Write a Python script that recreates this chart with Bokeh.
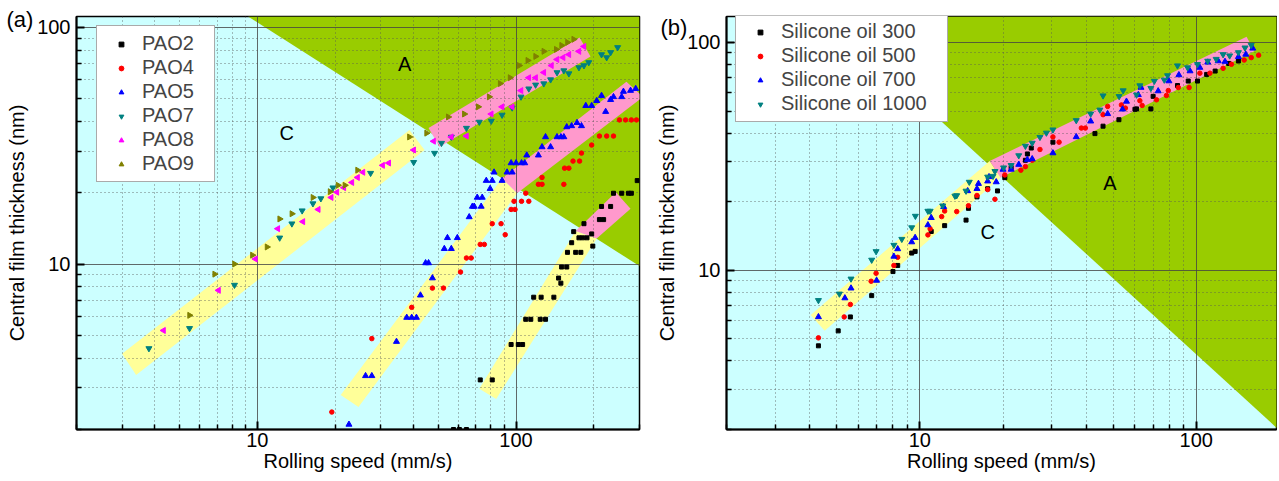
from bokeh.plotting import figure
from bokeh.models import Range1d, Legend, LegendItem, Label, BasicTickFormatter, FixedTicker
from bokeh.layouts import row
from bokeh.embed import file_html
from bokeh.resources import INLINE

FONT = "Liberation Sans"
FS = "20px"

# ---------------- panel (a) data ----------------
pao2_x = [57.3, 60.4, 64.3, 72.7, 80.9, 95.7, 102, 106, 109, 114, 124, 130, 117, 125, 140, 146, 149, 150, 157,
          158, 170, 178, 164, 167, 175, 181, 188, 196, 198, 183, 210, 218, 214, 232, 238, 256, 272, 279, 294]
pao2_y = [2.0, 2.0, 2.0, 3.24, 3.24, 4.57, 4.57, 4.57, 5.84, 5.84, 5.84, 5.84, 7.24, 7.24, 7.24, 8.72, 8.30, 9.71, 9.71,
          11.2, 11.2, 11.2, 12.3, 13.7, 12.9, 12.9, 12.9, 13.4, 11.9, 14.8, 15.4, 15.4, 17.5, 17.5, 19.9, 19.9, 19.9, 19.9, 22.5]

pao4_x = [19.4, 27.7, 39.5, 47.5, 52.4, 61.0, 64.3, 67.1, 72.7, 75.4, 90.8, 80.9, 87.5, 95.7, 99.1, 98.2, 105, 112,
          109, 122, 126, 126, 153, 154, 160, 166, 176, 179, 196, 210, 224, 238, 251, 265, 279, 292]
pao4_y = [2.37, 4.84, 6.56, 7.91, 7.91, 9.25, 10.6, 10.6, 12.1, 12.1, 13.3, 14.8, 14.8, 17.0, 17.0, 18.4, 18.4, 18.4,
          19.9, 21.7, 21.7, 23.2, 21.7, 25.4, 25.4, 27.2, 27.2, 29.4, 31.8, 34.7, 34.7, 34.7, 40.6, 40.6, 40.6, 40.6]

pao5_x = [22.6, 26.2, 27.7, 34.5, 37.8, 39.5, 41.2, 42.7, 47.5, 44.7, 45.9, 52.8, 56.2, 54.3, 59.3, 65.9, 67.8, 68.9,
          73.3, 70.8, 74.0, 79.4, 76.7, 80.9, 82.2, 88.3, 92.3, 95.7, 96.6, 100, 105, 108, 110, 122, 126, 130, 136, 144,
          149, 153, 157, 164, 172, 179, 186, 196, 205, 214, 222, 232, 238, 256, 260, 277, 290]
pao5_y = [2.10, 3.37, 3.37, 4.70, 5.94, 5.94, 5.94, 7.38, 8.72, 10.1, 10.1, 11.6, 11.6, 12.9, 12.9, 15.8, 17.5, 17.5,
          17.5, 19.1, 19.1, 20.8, 22.5, 22.5, 24.4, 22.5, 24.4, 26.7, 24.4, 26.7, 26.7, 26.7, 28.8, 28.8, 31.2, 34.4, 31.2,
          34.4, 34.4, 34.4, 37.9, 38.3, 39.5, 38.3, 46.6, 46.6, 48.9, 51.4, 44.0, 49.4, 50.8, 50.8, 53.5, 54.0, 55.0]

pao7_x = [3.81, 5.47, 8.16, 12.2, 13.6, 14.9, 16.4, 17.6, 19.6, 27.4, 40.2, 48.4, 51.5, 56.2, 64.3, 72.1, 80.2, 88.3,
          96.6, 104.5, 112, 119, 128, 136, 144, 153, 160, 175, 183, 191, 214, 224, 232, 247]
pao7_y = [4.40, 5.35, 8.15, 12.9, 14.8, 16.8, 18.0, 18.9, 21.0, 24.2, 26.9, 29.4, 32.4, 34.4, 37.5, 39.8, 40.2, 42.6,
          45.7, 50.8, 55.0, 57.1, 57.8, 60.1, 64.4, 65.6, 63.7, 67.6, 68.9, 71.0, 76.7, 74.5, 78.3, 82.2]

pao8_x = [4.34, 7.08, 9.83, 12.0, 15.0, 17.2, 19.3, 20.3, 21.6, 23.2, 24.4, 25.6, 30.5, 32.2, 40.2, 48.0, 56.2, 64.3,
          80.2, 88.3, 96.6, 104.5, 112, 119, 128, 137, 144, 152, 160, 175, 183]
pao8_y = [5.24, 7.74, 10.5, 14.1, 15.1, 17.0, 19.1, 20.1, 21.0, 22.1, 23.2, 24.4, 26.1, 26.7, 30.3, 33.0, 34.4, 34.7,
          43.0, 46.1, 46.1, 54.0, 61.2, 61.2, 64.4, 68.9, 73.1, 74.5, 76.7, 79.1, 83.0]

pao9_x = [5.47, 6.84, 8.16, 9.57, 10.9, 12.2, 13.6, 16.4, 19.1, 20.5, 21.8, 24.4, 38.7, 45.1, 54.7, 63.1, 71.4, 78.7,
          86.8, 94.8, 102.8, 111, 119, 128, 143, 150, 158, 167]
pao9_y = [6.07, 9.06, 10.0, 10.9, 11.8, 15.5, 16.3, 19.1, 20.2, 21.5, 21.5, 24.9, 34.4, 35.7, 41.8, 43.0, 46.1, 50.8,
          57.8, 61.2, 68.9, 72.4, 75.3, 79.1, 80.6, 83.8, 86.3, 88.9]

# regime regions / bands of panel (a)
a_green_x = [9.2, 300, 300]
a_green_y = [111, 9.8, 111]
a_yellow1_x = [3.0, 3.40, 44.3, 38.7]
a_yellow1_y = [4.18, 3.40, 30.3, 36.8]
a_pink1_x = [45.9, 50.6, 194, 176]
a_pink1_y = [37.5, 31.2, 75.3, 90.6]
a_yellow2_x = [21.0, 24.6, 101, 88.3]
a_yellow2_y = [2.80, 2.49, 19.9, 23.0]
a_pink2_x = [88.3, 101, 310, 267]
a_pink2_y = [23.0, 19.9, 50.8, 58.9]
a_yellow3_x = [72.1, 83.8, 205, 170]
a_yellow3_y = [2.97, 2.69, 12.8, 13.8]
a_pink3_x = [170, 205, 277, 243]
a_pink3_y = [13.8, 12.8, 17.1, 20.1]

# ---------------- panel (b) data ----------------
so300_x = [4.30, 5.07, 5.61, 6.70, 8.00, 8.32, 9.35, 9.62, 11.0, 12.3, 14.7, 15.0, 16.1, 17.6, 19.1, 20.3, 21.4, 24.1,
           24.5, 25.3, 30.3, 43.0, 46.0, 52.5, 60.0, 60.8, 68.5, 69.8, 85.5, 93.5, 101, 109, 117, 131, 142]
so300_y = [4.66, 5.42, 6.24, 7.74, 9.87, 10.5, 11.9, 12.1, 14.8, 15.7, 16.6, 18.7, 21.0, 22.8, 22.3, 25.5, 28.2, 30.4,
           32.4, 34.4, 36.5, 39.8, 42.9, 45.8, 50.9, 51.1, 51.1, 58.0, 64.7, 67.7, 67.7, 72.4, 74.9, 80.9, 82.9]

so500_x = [4.30, 5.33, 5.61, 6.67, 6.95, 8.06, 8.32, 10.7, 10.9, 12.0, 12.3, 13.6, 15.0, 16.1, 17.6, 18.7, 20.3, 23.2,
           24.1, 25.5, 27.2, 30.3, 31.9, 38.4, 39.7, 46.0, 47.8, 53.6, 55.4, 62.5, 63.7, 71.8, 78.0, 79.2, 86.1, 94.2,
           103, 112, 125, 134, 149, 158, 168]
so500_y = [5.05, 6.24, 7.08, 8.95, 9.70, 10.5, 11.4, 14.3, 15.2, 17.2, 18.2, 18.1, 19.2, 21.3, 22.6, 20.5, 26.2, 27.5,
           28.5, 30.4, 33.9, 38.5, 36.5, 42.1, 42.1, 48.2, 52.4, 53.2, 51.5, 55.5, 52.9, 56.0, 58.5, 61.5, 63.4, 63.4,
           73.3, 73.3, 77.0, 80.2, 83.7, 85.8, 87.9]

so700_x = [4.30, 5.36, 5.64, 6.98, 8.06, 8.32, 9.35, 9.62, 10.7, 11.0, 12.2, 14.9, 16.1, 16.3, 17.6, 17.8, 18.9, 20.0,
           21.4, 22.8, 24.5, 25.5, 30.3, 36.8, 41.5, 47.8, 54.1, 55.9, 61.7, 63.1, 72.8, 79.6, 86.5, 94.9, 103, 110,
           120, 127, 142, 151, 160]
so700_y = [6.24, 7.55, 8.34, 9.02, 11.5, 12.4, 13.3, 13.9, 15.8, 17.0, 19.0, 22.3, 22.8, 24.0, 24.6, 25.7, 24.4, 27.7,
           27.7, 29.1, 30.6, 30.8, 32.7, 38.5, 45.1, 48.6, 50.9, 55.1, 58.9, 63.4, 61.2, 67.7, 72.0, 74.9, 77.6, 81.8,
           82.9, 82.4, 86.5, 88.6, 94.2]

so1000_x = [4.30, 5.12, 5.64, 6.70, 6.95, 8.06, 8.61, 9.35, 9.64, 10.7, 10.9, 12.1, 13.4, 13.6, 14.7, 15.1, 17.6, 18.4,
            18.7, 20.1, 21.4, 22.8, 24.1, 25.5, 27.2, 28.7, 30.3, 36.8, 41.5, 44.8, 46.0, 52.6, 54.4, 60.8, 62.5, 68.5,
            70.5, 76.6, 78.7, 85.5, 93.0, 101, 110, 118, 125, 132, 142, 150, 158]
so1000_y = [7.38, 7.88, 9.17, 11.1, 12.1, 12.9, 13.7, 15.4, 17.3, 18.2, 18.2, 19.2, 21.2, 21.3, 22.3, 24.4, 25.7, 25.9,
            27.2, 28.2, 28.9, 31.9, 35.1, 36.2, 38.4, 40.1, 41.4, 45.5, 48.6, 50.6, 58.4, 58.0, 61.5, 58.9, 64.7, 63.0,
            67.7, 68.5, 71.6, 79.1, 77.6, 80.2, 82.9, 84.5, 88.6, 87.5, 90.4, 94.8, 97.3]

b_green_x = [4.6, 200, 200]
b_green_y = [130, 1.98, 130]
b_yellow_x = [4.03, 4.53, 19.6, 17.9]
b_yellow_y = [6.36, 5.42, 25.5, 30.2]
b_pink_x = [17.9, 19.6, 162, 152]
b_pink_y = [30.2, 25.5, 91.5, 106]

major_ticks = [1, 10, 100, 1000]
minor_ticks = [m * d for d in (1, 10, 100) for m in range(2, 10)]

CYAN = "#ccffff"
GREEN = "#99cc00"
YELLOW = "#ffff99"
PINK = "#ff99cc"


def make_fig(width, height, xr, yr, mb_left, mb_right, mb_top, mb_bottom, tag, tag_dx, tag_standoff):
    p = figure(width=width, height=height, x_axis_type="log", y_axis_type="log",
               x_range=Range1d(*xr), y_range=Range1d(*yr),
               output_backend="svg", toolbar_location=None,
               min_border_left=mb_left, min_border_right=mb_right,
               min_border_top=mb_top, min_border_bottom=mb_bottom)
    p.background_fill_color = CYAN
    p.border_fill_color = "white"
    p.outline_line_color = "black"
    p.outline_line_width = 1.5
    # panel tag "(a)" / "(b)" drawn as the title, pulled to the upper left corner
    p.title.text = tag
    p.title.align = "left"
    p.title.offset = tag_dx
    p.title.standoff = tag_standoff
    p.title.text_font = FONT
    p.title.text_font_size = "22px"
    p.title.text_font_style = "normal"
    p.title.text_color = "black"
    tk = FixedTicker(ticks=major_ticks, minor_ticks=minor_ticks)
    for ax in (p.xaxis[0], p.yaxis[0]):
        ax.ticker = tk
        ax.formatter = BasicTickFormatter(use_scientific=False)
        ax.axis_line_width = 2
        ax.axis_line_color = "black"
        ax.major_tick_in = 8
        ax.major_tick_out = 0
        ax.minor_tick_in = 5
        ax.minor_tick_out = 0
        ax.major_tick_line_width = 2
        ax.minor_tick_line_width = 1.5
        ax.major_label_text_font = FONT
        ax.major_label_text_font_size = FS
        ax.major_label_text_color = "black"
        ax.axis_label_text_font = FONT
        ax.axis_label_text_font_size = FS
        ax.axis_label_text_font_style = "normal"
        ax.axis_label_text_color = "black"
    p.xaxis.major_label_standoff = 3
    p.xaxis.axis_label_standoff = 0
    p.yaxis.major_label_standoff = 6
    p.yaxis.axis_label_standoff = 6
    for g in (p.xgrid[0], p.ygrid[0]):
        g.ticker = tk
        g.grid_line_color = "#444444"
        g.grid_line_width = 1
        g.grid_line_alpha = 0.8
        g.minor_grid_line_color = "#555555"
        g.minor_grid_line_width = 1
        g.minor_grid_line_dash = "1 3"
        g.minor_grid_line_alpha = 0.8
    p.xaxis.axis_label = "Rolling speed (mm/s)"
    p.yaxis.axis_label = "Central film thickness (nm)"
    return p


def band(p, xs, ys, color):
    p.patch(xs, ys, fill_color=color, line_color=None, level="image")


def region_label(p, x, y, text):
    p.add_layout(Label(x=x, y=y, text=text, text_font=FONT, text_font_size=FS,
                       text_align="center", text_baseline="middle", text_color="black"))


def make_legend(items, loc, label_width):
    return Legend(items=items, location=loc, margin=0, padding=6, spacing=1,
                  glyph_width=36, glyph_height=12, label_height=20, label_width=label_width,
                  label_standoff=3, label_text_font=FONT, label_text_font_size=FS,
                  background_fill_color="white", background_fill_alpha=1,
                  border_line_color="#555555", border_line_width=1)


# ---------------- panel (a) ----------------
pa = make_fig(650, 478, (2, 300), (2, 111), 76, 11, 16, 49, "(a)", -70, -30)
band(pa, a_green_x, a_green_y, GREEN)
for xs, ys, c in ((a_yellow1_x, a_yellow1_y, YELLOW), (a_pink1_x, a_pink1_y, PINK),
                  (a_yellow2_x, a_yellow2_y, YELLOW), (a_pink2_x, a_pink2_y, PINK),
                  (a_yellow3_x, a_yellow3_y, YELLOW), (a_pink3_x, a_pink3_y, PINK)):
    band(pa, xs, ys, c)
region_label(pa, 37.1, 69.7, "A")
region_label(pa, 13.0, 35.7, "C")

HALF_PI = 1.5707963
series_a = [
    ("PAO2", pao2_x, pao2_y, "square", "black", 4, 0),
    ("PAO4", pao4_x, pao4_y, "circle", "#ff0000", 4.5, 0),
    ("PAO5", pao5_x, pao5_y, "triangle", "#0000ff", 6, 0),
    ("PAO7", pao7_x, pao7_y, "inverted_triangle", "#008080", 6, 0),
    ("PAO8", pao8_x, pao8_y, "triangle", "#ff00ff", 6, HALF_PI),
    ("PAO9", pao9_x, pao9_y, "triangle", "#808000", 6, -HALF_PI),
]
items_a = []
for name, xs, ys, mk, col, sz, ang in series_a:
    r = pa.scatter(xs, ys, marker=mk, size=sz, fill_color=col, line_color=col, angle=ang)
    items_a.append(LegendItem(label=name, renderers=[r]))
pa.add_layout(make_legend(items_a, (20, 247), 66))

# ---------------- panel (b) ----------------
pb = make_fig(627, 478, (2, 195), (2, 130), 76, 1, 13, 49, "(b)", -66, -46)
band(pb, b_green_x, b_green_y, GREEN)
band(pb, b_yellow_x, b_yellow_y, YELLOW)
band(pb, b_pink_x, b_pink_y, PINK)
region_label(pb, 48.7, 24.2, "A")
region_label(pb, 17.6, 14.7, "C")

series_b = [
    ("Silicone oil 300", so300_x, so300_y, "square", "black", 4),
    ("Silicone oil 500", so500_x, so500_y, "circle", "#ff0000", 4.5),
    ("Silicone oil 700", so700_x, so700_y, "triangle", "#0000ff", 6),
    ("Silicone oil 1000", so1000_x, so1000_y, "inverted_triangle", "#008080", 6),
]
items_b = []
for name, xs, ys, mk, col, sz in series_b:
    r = pb.scatter(xs, ys, marker=mk, size=sz, fill_color=col, line_color=col)
    items_b.append(LegendItem(label=name, renderers=[r]))
pb.add_layout(make_legend(items_b, (9, 307), 160))

layout = row(pa, pb)
open("out.html", "w").write(file_html(layout, INLINE))
